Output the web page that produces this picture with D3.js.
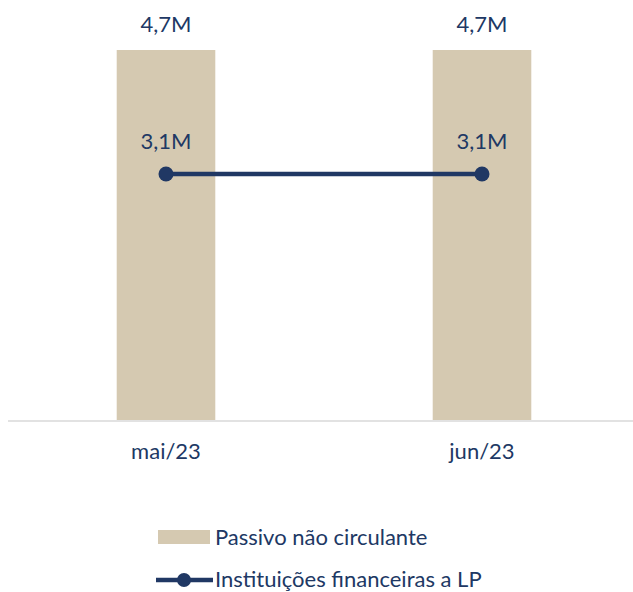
<!DOCTYPE html>
<html>
<head>
<meta charset="utf-8">
<script src="https://cdn.jsdelivr.net/npm/d3@7"></script>
<style>
  html, body { margin: 0; padding: 0; background: #fff; }
  svg { display: block; font-family: Lato, "Open Sans", sans-serif; }
</style>
</head>
<body>
<svg id="chart" width="633" height="592"></svg>
<script>
const categories = ["mai/23", "jun/23"];
const barValues = [4.7, 4.7];      // Passivo não circulante (milhões)
const lineValues = [3.13, 3.13];   // Instituições financeiras a LP (milhões)
const seriesNames = ["Passivo não circulante", "Instituições financeiras a LP"];

const barColor = "#d5c9b1";
const navy = "#203864";
const textColor = "#203864";
const fs = 22;

const svg = d3.select("#chart");
const W = 633;

const x = d3.scaleBand().domain(categories).range([8, 640]).paddingInner(0.688).paddingOuter(0.344);
const y = d3.scaleLinear().domain([0, 4.7]).range([421, 50]);

const fmt = v => d3.format(".1f")(v).replace(".", ",") + "M";

// axis line
svg.append("line")
  .attr("x1", 8).attr("x2", W).attr("y1", y(0)).attr("y2", y(0))
  .attr("stroke", "#d9d9d9").attr("stroke-width", 1.5);

// bars
svg.selectAll("rect.bar").data(categories).join("rect")
  .attr("class", "bar")
  .attr("x", d => x(d))
  .attr("width", x.bandwidth())
  .attr("y", (d, i) => y(barValues[i]))
  .attr("height", (d, i) => y(0) - y(barValues[i]) - 1)
  .attr("fill", barColor);

// bar labels
svg.selectAll("text.barlab").data(categories).join("text")
  .attr("class", "barlab")
  .attr("x", d => x(d) + x.bandwidth() / 2)
  .attr("y", (d, i) => y(barValues[i]) - 18.5)
  .attr("text-anchor", "middle")
  .attr("font-size", fs)
  .attr("fill", textColor)
  .text((d, i) => fmt(barValues[i]));

// line
const line = d3.line()
  .x((d, i) => x(categories[i]) + x.bandwidth() / 2)
  .y(d => y(d));
svg.append("path")
  .datum(lineValues)
  .attr("d", line)
  .attr("fill", "none")
  .attr("stroke", navy)
  .attr("stroke-width", 4.5);

svg.selectAll("circle.pt").data(lineValues).join("circle")
  .attr("class", "pt")
  .attr("cx", (d, i) => x(categories[i]) + x.bandwidth() / 2)
  .attr("cy", d => y(d))
  .attr("r", 7.5)
  .attr("fill", navy);

svg.selectAll("text.linelab").data(lineValues).join("text")
  .attr("class", "linelab")
  .attr("x", (d, i) => x(categories[i]) + x.bandwidth() / 2)
  .attr("y", d => y(d) - 25)
  .attr("text-anchor", "middle")
  .attr("font-size", fs)
  .attr("fill", textColor)
  .text(d => fmt(d));

// x axis labels
svg.selectAll("text.xlab").data(categories).join("text")
  .attr("class", "xlab")
  .attr("x", d => x(d) + x.bandwidth() / 2)
  .attr("y", 459)
  .attr("text-anchor", "middle")
  .attr("font-size", fs)
  .attr("fill", textColor)
  .text(d => d);

// legend
const leg = svg.append("g");
leg.append("rect").attr("x", 158).attr("y", 530).attr("width", 52).attr("height", 14).attr("fill", barColor);
leg.append("text").attr("x", 215).attr("y", 545).attr("font-size", fs).attr("fill", textColor).text(seriesNames[0]);
leg.append("line").attr("x1", 156).attr("x2", 213).attr("y1", 580).attr("y2", 580)
  .attr("stroke", navy).attr("stroke-width", 4.5);
leg.append("circle").attr("cx", 184).attr("cy", 580).attr("r", 7).attr("fill", navy);
leg.append("text").attr("x", 215).attr("y", 587).attr("font-size", fs).attr("fill", textColor).text(seriesNames[1]);
</script>
</body>
</html>
